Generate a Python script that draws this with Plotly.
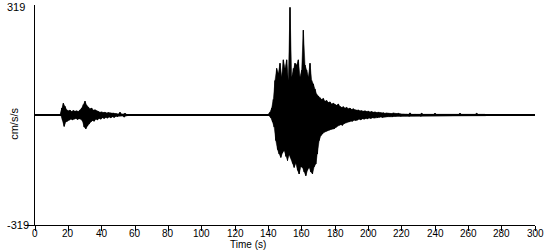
import plotly.graph_objects as go

# ---- data (peak amplitudes, cm/s/s, one pair per second) ----
t1_start = 15
ev1_up = [0, 20, 34, 25, 15, 12, 14, 10, 13, 11, 12, 10, 14, 20, 30, 40, 28, 22, 18, 20,
          14, 15, 12, 10, 8, 9, 7, 8, 6, 7, 6, 5, 6, 5, 4, 3, 8, 3, 3, 5, 2]
ev1_dn = [0, 15, 33, 20, 18, 15, 12, 14, 12, 10, 13, 11, 12, 18, 35, 40, 32, 25, 20, 16,
          18, 12, 14, 10, 12, 8, 10, 7, 9, 6, 8, 5, 7, 4, 5, 3, 3, 3, 6, 3, 2]

t2_start = 140
ev2_up = [3, 8, 20, 45, 100, 135, 120, 150, 110, 160, 135, 160, 100, 312, 110, 135, 150, 145, 160, 110,
          130, 246, 145, 130, 110, 150, 100, 90, 75, 60, 55, 50, 45, 48, 40, 42, 36, 38, 32, 34,
          30, 28, 32, 25, 22, 24, 20, 22, 18, 20, 16, 18, 15, 14, 15, 12, 13, 11, 12, 10,
          11, 9, 10, 8, 9, 7, 8, 7, 6, 7, 5, 6, 5, 5, 4, 6, 4, 4, 5, 3,
          3, 3, 2, 3, 2, 6, 2, 2, 3, 2, 2, 2, 5, 2, 2, 2, 2, 2, 2, 2,
          5, 2, 2, 2, 2, 2, 2, 2, 2, 2, 2, 2, 2, 2, 2, 5, 2, 2, 2, 2,
          2, 2, 2, 2, 2, 5, 2, 2, 2, 2, 2]
ev2_dn = [3, 8, 20, 35, 74, 100, 113, 123, 110, 103, 120, 132, 115, 123, 140, 152, 140, 160, 171, 150,
          152, 165, 176, 160, 152, 165, 171, 150, 142, 113, 74, 60, 55, 50, 48, 45, 44, 42, 40, 40,
          36, 32, 30, 28, 30, 25, 22, 20, 20, 18, 18, 15, 16, 15, 12, 14, 11, 12, 10, 11,
          9, 10, 8, 9, 7, 8, 7, 6, 7, 5, 6, 5, 5, 4, 5, 4, 4, 3, 3, 4,
          3, 2, 3, 2, 4, 2, 2, 3, 2, 2, 2, 4, 2, 2, 2, 2, 2, 2, 2, 2,
          2, 2, 2, 2, 2, 2, 2, 2, 2, 2, 2, 2, 2, 2, 2, 2, 2, 2, 2, 2,
          2, 2, 2, 2, 2, 2, 2, 2, 2, 2, 2]

x_ticks = list(range(0, 301, 20))
y_max = 319


def zigzag(t0, ups, dns):
    xs, ys = [], []
    for i, (u, d) in enumerate(zip(ups, dns)):
        xs += [t0 + i, t0 + i + 0.5]
        ys += [u, -d]
    return xs, ys


def envelope(t0, ups, dns):
    n = len(ups)
    xs = [t0 + i for i in range(n)] + [t0 + i + 0.5 for i in range(n - 1, -1, -1)]
    ys = list(ups) + [-d for d in reversed(dns)]
    return xs, ys


fig = go.Figure()
# baseline
fig.add_trace(go.Scatter(x=[0, 300], y=[0, 0], mode="lines",
                         line=dict(color="black", width=2), hoverinfo="skip"))
for t0, u, d in [(t1_start, ev1_up, ev1_dn), (t2_start, ev2_up, ev2_dn)]:
    ex, ey = envelope(t0, u, d)
    fig.add_trace(go.Scatter(x=ex, y=ey, mode="lines", fill="toself", fillcolor="black",
                             line=dict(color="black", width=0.5), hoverinfo="skip"))
    xs, ys = zigzag(t0, u, d)
    fig.add_trace(go.Scatter(x=xs, y=ys, mode="lines",
                             line=dict(color="black", width=1), hoverinfo="skip"))

font = dict(family="Liberation Sans, Arial, sans-serif", size=11, color="black")
num_font = dict(family="Liberation Sans Narrow, Liberation Sans, Arial, sans-serif",
                size=11, color="black")
tick_font = dict(family="Liberation Sans Narrow, Liberation Sans, Arial, sans-serif",
                 size=10, color="black")

annotations = [
    dict(text=str(v), xref="x", yref="paper", x=v, y=0, xanchor="center", yanchor="top",
         yshift=-2, borderpad=0, showarrow=False, font=tick_font)
    for v in x_ticks
]
annotations += [
    dict(text=str(y_max), xref="paper", yref="y", x=-30 / 500, y=y_max, xanchor="left",
         yanchor="middle", yshift=-2, showarrow=False, font=num_font),
    dict(text=str(-y_max), xref="paper", yref="y", x=-30 / 500, y=-y_max, xanchor="left",
         yanchor="middle", showarrow=False, font=num_font),
    dict(text="cm/s/s", xref="paper", yref="paper", x=-21 / 500, y=0.46, textangle=-90,
         xanchor="center", yanchor="middle", showarrow=False, font=font),
    dict(text="Time (s)", xref="paper", yref="paper", x=(248 - 35) / 500, y=-25 / 220,
         xanchor="center", yanchor="bottom", yshift=-1, borderpad=0, showarrow=False,
         font=dict(family="Liberation Sans, Arial, sans-serif", size=10, color="black")),
]

fig.update_layout(
    width=550, height=250,
    margin=dict(l=35, r=15, t=5, b=25),
    paper_bgcolor="white", plot_bgcolor="white",
    showlegend=False, font=font,
    xaxis=dict(range=[0, 300], tickvals=x_ticks, showticklabels=False, ticks="outside",
               ticklen=5, tickcolor="black", showline=True, linecolor="black", linewidth=1,
               showgrid=False, zeroline=False),
    yaxis=dict(range=[-y_max, y_max], tickvals=[-y_max], ticktext=[""], ticks="outside",
               ticklen=9, tickcolor="black", showline=True, linecolor="black", linewidth=1,
               showgrid=False, zeroline=False),
    annotations=annotations,
)

fig.write_html("out.html")
